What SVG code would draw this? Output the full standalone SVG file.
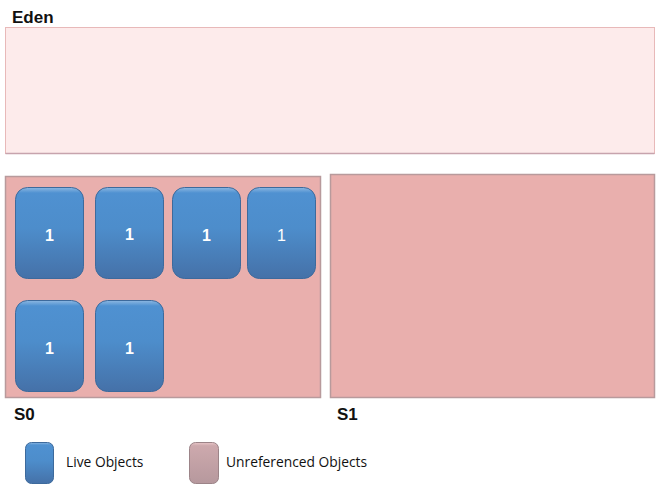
<svg xmlns="http://www.w3.org/2000/svg" width="660" height="490" viewBox="0 0 660 490">
<style>
.lbl{font-family:"Liberation Sans",Arial,sans-serif;font-weight:bold;font-size:17px;fill:#111}
.num{font-family:"Liberation Sans",Arial,sans-serif;font-weight:bold;font-size:16px;fill:#fff;text-anchor:middle}
.leg{font-family:"Open Sans","Liberation Sans",sans-serif;font-size:13.8px;fill:#111}
.obj{fill:url(#blue);stroke:#3d6a9c;stroke-width:1}
.space{fill:#E9AFAD;stroke:#b89a9c;stroke-width:1.5}
</style>
<defs>
<linearGradient id="blue" x1="0" y1="0" x2="0" y2="1">
<stop offset="0" stop-color="#8DB8E2"/>
<stop offset="0.06" stop-color="#4F91D1"/>
<stop offset="0.45" stop-color="#4D8DCB"/>
<stop offset="1" stop-color="#4571A8"/>
</linearGradient>
<linearGradient id="grey" x1="0" y1="0" x2="0" y2="1">
<stop offset="0" stop-color="#E9C6C8"/>
<stop offset="0.08" stop-color="#CDA9AD"/>
<stop offset="1" stop-color="#B6989D"/>
</linearGradient>
</defs>
<g id="eden">
<rect x="5.5" y="27.5" width="649" height="126" fill="#FDEBEB" stroke="#E8B9B9" stroke-width="1"/>
<line x1="5.5" y1="153.5" x2="654.5" y2="153.5" stroke="#C7A3AD" stroke-width="1.5"/>
<text class="lbl" x="12" y="23">Eden</text>
</g>
<g id="s0">
<rect class="space" x="5.5" y="176.5" width="315" height="221"/>
<text class="lbl" x="14" y="420">S0</text>
</g>
<g id="s1">
<rect class="space" x="330.5" y="174.5" width="324" height="223"/>
<text class="lbl" x="337" y="420">S1</text>
</g>
<g id="obj1"><rect class="obj" x="15.5" y="187.5" width="68" height="91" rx="12"/><text class="num" x="49.5" y="241">1</text></g>
<g id="obj2"><rect class="obj" x="95.5" y="187.5" width="68" height="91" rx="12"/><text class="num" x="129.5" y="240">1</text></g>
<g id="obj3"><rect class="obj" x="172.5" y="187.5" width="68" height="91" rx="12"/><text class="num" x="206.5" y="241">1</text></g>
<g id="obj4"><rect class="obj" x="247.5" y="187.5" width="68" height="91" rx="12"/><text class="num" x="281.5" y="241" style="font-weight:normal">1</text></g>
<g id="obj5"><rect class="obj" x="15.5" y="300.5" width="68" height="91" rx="12"/><text class="num" x="49.5" y="354">1</text></g>
<g id="obj6"><rect class="obj" x="95.5" y="300.5" width="68" height="91" rx="12"/><text class="num" x="129.5" y="354">1</text></g>
<g id="legend-live">
<rect class="obj" x="25.5" y="442.5" width="28" height="41" rx="6"/>
<text class="leg" x="66" y="467">Live Objects</text>
</g>
<g id="legend-unref">
<rect x="189.5" y="442.5" width="29" height="41" rx="6" fill="url(#grey)" stroke="#9c8488" stroke-width="1"/>
<text class="leg" x="226" y="467">Unreferenced Objects</text>
</g>
</svg>
